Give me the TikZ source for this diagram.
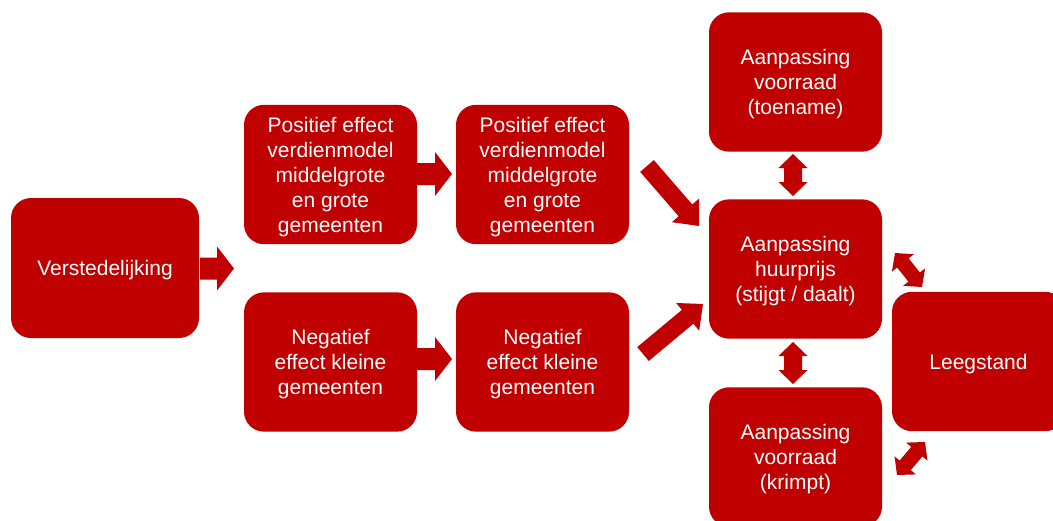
\documentclass[tikz,border=0pt]{standalone}
\usepackage{fontspec}
\setmainfont{Liberation Sans}
\usetikzlibrary{calc}
\definecolor{boxred}{RGB}{192,0,0}
% single block arrow: #1 tail, #2 tip, #3 shaft half width, #4 head half width, #5 head length
\newcommand\blockarrow[5]{%
  \path ($(#2)!#5!(#1)$) coordinate (hb);
  \fill[boxred] ($(#1)!#3!90:(#2)$) -- ($(hb)!#3!90:(#2)$) -- ($(hb)!#4!90:(#2)$) -- (#2)
    -- ($(hb)!#4!-90:(#2)$) -- ($(hb)!#3!-90:(#2)$) -- ($(#1)!#3!-90:(#2)$) -- cycle;}
% double block arrow
\newcommand\dblarrow[5]{%
  \path ($(#1)!#5!(#2)$) coordinate (ha) ($(#2)!#5!(#1)$) coordinate (hb);
  \fill[boxred] (#1) -- ($(ha)!#4!90:(#2)$) -- ($(ha)!#3!90:(#2)$) -- ($(hb)!#3!90:(#2)$)
    -- ($(hb)!#4!90:(#2)$) -- (#2) -- ($(hb)!#4!-90:(#2)$) -- ($(hb)!#3!-90:(#2)$)
    -- ($(ha)!#3!-90:(#2)$) -- ($(ha)!#4!-90:(#2)$) -- cycle;}
\begin{document}
\begin{tikzpicture}[x=0.75pt,y=-0.75pt,
  box/.style={fill=boxred,draw=none,rounded corners=15pt,text=white,align=center,
    inner sep=0pt,minimum width=129.75pt,minimum height=104.5pt,text depth=-1.2pt,
    font=\fontsize{15.75pt}{18.75pt}\selectfont}]
\clip (0,0) rectangle (1053,521);
\useasboundingbox (0,0) rectangle (1053,521);
\node[box,minimum width=141pt,minimum height=105pt] (v) at (105,268) {Verstedelijking};
\node[box] (p1) at (330.5,174.5) {Positief effect\\verdienmodel\\middelgrote\\en grote\\gemeenten};
\node[box] (n1) at (330.5,362) {Negatief\\effect kleine\\gemeenten};
\node[box] (p2) at (542.5,174.5) {Positief effect\\verdienmodel\\middelgrote\\en grote\\gemeenten};
\node[box] (n2) at (542.5,362) {Negatief\\effect kleine\\gemeenten};
\node[box] (top) at (795.5,82) {Aanpassing\\voorraad\\(toename)};
\node[box] (h) at (795.5,269) {Aanpassing\\huurprijs\\(stijgt / daalt)};
\node[box] (bot) at (795.5,457) {Aanpassing\\voorraad\\(krimpt)};
\node[box] (l) at (978.5,361.5) {Leegstand};
% arrow end points
\coordinate (a1s) at (200,268.5); \coordinate (a1e) at (234,268.5);
\coordinate (a2s) at (417,174);   \coordinate (a2e) at (452,174);
\coordinate (a3s) at (417,359);   \coordinate (a3e) at (452,359);
\coordinate (a4s) at (647,166);   \coordinate (a4e) at (699,226);
\coordinate (a5s) at (643,354);   \coordinate (a5e) at (703,304);
\coordinate (d1s) at (793,154);   \coordinate (d1e) at (793,196);
\coordinate (d2s) at (793,342);   \coordinate (d2e) at (793,384);
\coordinate (d3s) at (895,253);   \coordinate (d3e) at (922,287);
\coordinate (d4s) at (897,475);   \coordinate (d4e) at (925,442);
\blockarrow{a1s}{a1e}{8.25pt}{16.5pt}{12.75pt}
\blockarrow{a2s}{a2e}{8.25pt}{16.5pt}{12.75pt}
\blockarrow{a3s}{a3e}{8.25pt}{16.5pt}{12.75pt}
\blockarrow{a4s}{a4e}{6.75pt}{13.5pt}{15.5pt}
\blockarrow{a5s}{a5e}{6.75pt}{13.5pt}{15pt}
\dblarrow{d1s}{d1e}{6.75pt}{10.9pt}{10.5pt}
\dblarrow{d2s}{d2e}{6.75pt}{10.9pt}{10.5pt}
\dblarrow{d3s}{d3e}{5.5pt}{10.5pt}{9.5pt}
\dblarrow{d4s}{d4e}{5.5pt}{10.5pt}{9.5pt}
\end{tikzpicture}
\end{document}
